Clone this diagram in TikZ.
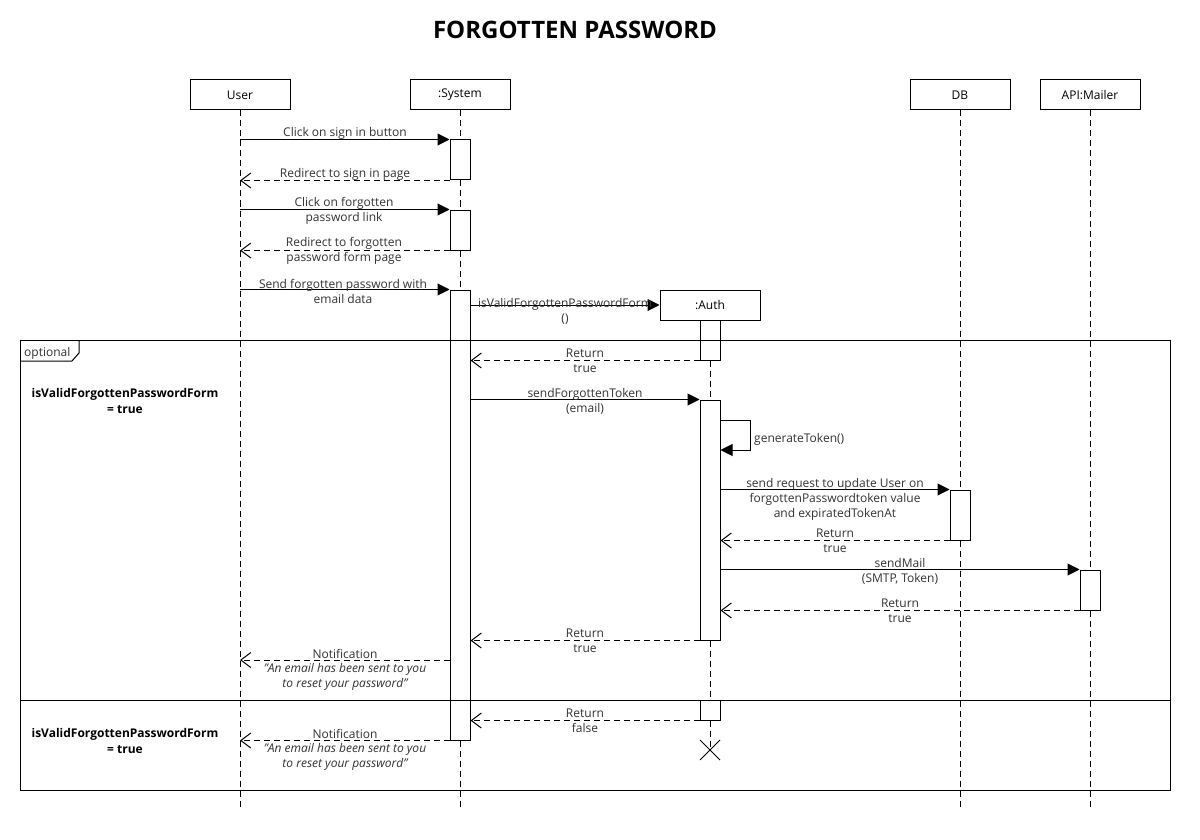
\documentclass[tikz,border=0pt]{standalone}
\usepackage{fontspec}
\setmainfont{Open Sans}
\usetikzlibrary{arrows.meta,calc}
\begin{document}
\begin{tikzpicture}[x=1pt,y=-1pt,
  every node/.style={font=\fontsize{12}{15}\selectfont, inner sep=0pt},
  head/.style={draw, fill=white, line width=1pt, minimum width=100pt, minimum height=30pt},
  act/.style={draw, fill=white, line width=1pt, minimum width=20pt},
  life/.style={line width=1pt, dash pattern=on 6pt off 4pt},
  sync/.style={line width=1pt, -{Triangle[length=12pt,width=12pt]}},
  ret/.style={line width=1pt, dash pattern=on 6pt off 4pt, -{Straight Barb[length=10pt,width=15pt]}},
  lbl/.style={align=center, text=black!80},
  note/.style={align=center, text=black!80, font=\fontsize{12}{15}\selectfont\itshape},
  guard/.style={align=center, font=\fontsize{12}{16}\selectfont\bfseries},
  frm/.style={line width=1pt}]
\useasboundingbox[fill=white] (0,0) rectangle (1200,840);

% title
\node[font=\fontsize{24}{28}\selectfont\bfseries] (title) at (575,30) {FORGOTTEN PASSWORD};

% lifeline heads
\node[head] (u) at (240,95) {User};
\node[head] (s) at (460,95) {:System};
\node[head] (db) at (960,95) {DB};
\node[head] (m) at (1090,95) {API:Mailer};

% lifeline ends
\coordinate (uend) at (240,810);
\coordinate (send) at (460,810);
\coordinate (dbend) at (960,810);
\coordinate (mend) at (1090,810);
\coordinate (x) at (710,750);

\draw[life] (u.south) -- (uend);
\draw[life] (s.south) -- (send);
\draw[life] (db.south) -- (dbend);
\draw[life] (m.south) -- (mend);

% auth head
\node[head] (a) at (710,305) {:Auth};
\draw[life] (a.south) -- (x);

% activation bars
\node[act, minimum height=40pt] (s1) at (460,160) {};
\node[act, minimum height=40pt] (s2) at (460,230) {};
\node[act, minimum height=450pt] (s3) at (460,515) {};
\node[act, minimum height=40pt] (a1) at (710,340) {};
\node[act, minimum height=240pt] (a2) at (710,520) {};
\node[act, minimum height=20pt] (a3) at (710,710) {};
\node[act, minimum height=50pt] (d1) at (960,515) {};
\node[act, minimum height=40pt] (m1) at (1090,590) {};

% destruction
\draw[line width=1pt] ($(x)+(-10,-10)$) -- ($(x)+(10,10)$) ($(x)+(-10,10)$) -- ($(x)+(10,-10)$);

% frame
\coordinate (f1) at (20,340);
\coordinate (f2) at (1170,790);
\draw[frm] (f1) rectangle (f2);
\coordinate (dl) at (20,700);
\coordinate (dr) at (1170,700);
\draw[frm] (dl) -- (dr);
\draw[frm] (20,361) -- (72,361) -- (79,353) -- (79,340);
\node[anchor=west, text=black!80] (opt) at (24,353) {optional};
\node[guard] (g1) at (125,401) {isValidForgottenPasswordForm\\= true};
\node[guard] (g2) at (125,741) {isValidForgottenPasswordForm\\= true};

% messages
\draw[sync] (u |- s1.north) -- (s1.north west);
\node[lbl] (l1) at (345,133) {Click on sign in button};

\draw[ret] (s1.south west) -- (u |- s1.south);
\node[lbl] (l2) at (345,174) {Redirect to sign in page};

\draw[sync] (u |- s2.north) -- (s2.north west);
\node[lbl] (l3) at (344,211) {Click on forgotten\\password link};

\draw[ret] (s2.south west) -- (u |- s2.south);
\node[lbl] (l4) at (344,251) {Redirect to forgotten\\password form page};

\draw[sync] (u |- s3.north) -- (s3.north west);
\node[lbl] (l5) at (343,291) {Send forgotten password with\\email data};

\draw[sync] (s3.east |- a.west) -- (a.west);
\node[lbl] (l6) at (565,311) {isValidForgottenPasswordForm\\()};

\draw[ret] (a1.south west) -- (s3.east |- a1.south);
\node[lbl] (l7) at (585,361) {Return\\true};

\draw[sync] (s3.east |- a2.north) -- (a2.north west);
\node[lbl] (l8) at (585,401) {sendForgottenToken\\(email)};

\coordinate (sm1) at (750,420);
\coordinate (sm2) at (750,450);
\draw[sync] (a2.east |- sm1) -- (sm1) -- (sm2) -- (a2.east |- sm2);
\node[lbl, anchor=west] (l9) at (754,439) {generateToken()};

\draw[sync] (a2.east |- d1.north) -- (d1.north west);
\node[lbl] (l10) at (835,499) {send request to update User on\\forgottenPasswordtoken value\\and expiratedTokenAt};

\draw[ret] (d1.south west) -- (a2.east |- d1.south);
\node[lbl] (l11) at (835,541) {Return\\true};

\draw[sync] (a2.east |- m1.north) -- (m1.north west);
\node[lbl] (l12) at (900,571) {sendMail\\(SMTP, Token)};

\draw[ret] (m1.south west) -- (a2.east |- m1.south);
\node[lbl] (l13) at (900,611) {Return\\true};

\draw[ret] (a2.south west) -- (s3.east |- a2.south);
\node[lbl] (l14) at (585,641) {Return\\true};

\coordinate (n1) at (460,660);
\draw[ret] (s3.west |- n1) -- (u |- n1);
\node[lbl] (l15) at (345,654) {Notification};
\node[note] (l15b) at (345,677) {"An email has been sent to you\\to reset your password"};

\draw[ret] (a3.south west) -- (s3.east |- a3.south);
\node[lbl] (l16) at (585,721) {Return\\false};

\draw[ret] (s3.south west) -- (u |- s3.south);
\node[lbl] (l17) at (345,734) {Notification};
\node[note] (l17b) at (345,757) {"An email has been sent to you\\to reset your password"};
\end{tikzpicture}
\end{document}
